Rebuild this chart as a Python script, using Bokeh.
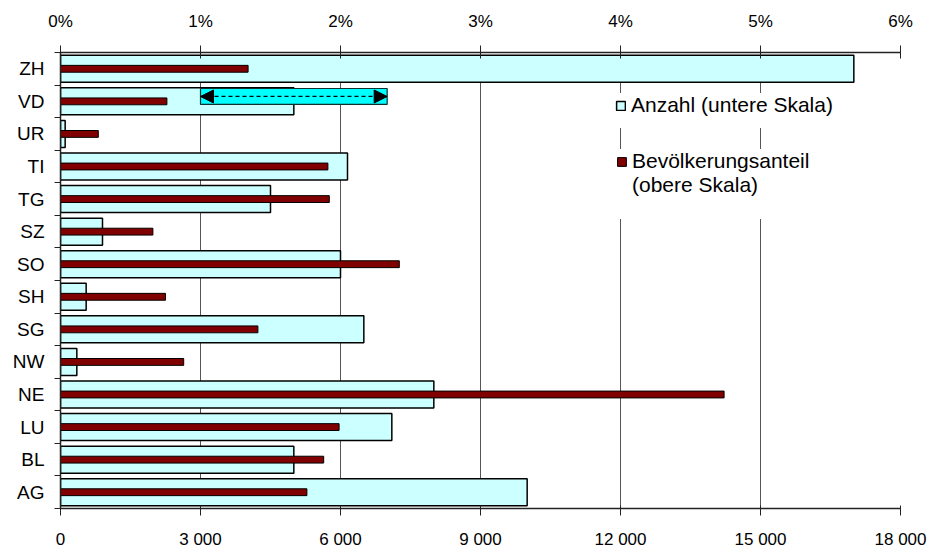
from bokeh.plotting import figure
from bokeh.models import (Range1d, LinearAxis, FixedTicker, Legend, LegendItem,
                          Arrow, NormalHead)
from bokeh.embed import file_html
from bokeh.resources import INLINE

# ---- data ----
cantons = ["ZH", "VD", "UR", "TI", "TG", "SZ", "SO", "SH", "SG", "NW", "NE", "LU", "BL", "AG"]
anzahl = [17000, 5000, 100, 6150, 4500, 900, 6000, 550, 6500, 350, 8000, 7100, 5000, 10000]
anteil = [1.34, 0.76, 0.27, 1.91, 1.92, 0.66, 2.42, 0.75, 1.41, 0.88, 4.74, 1.99, 1.88, 1.76]

bottom_ticks = [0, 3000, 6000, 9000, 12000, 15000, 18000]
bottom_labels = ["0", "3 000", "6 000", "9 000", "12 000", "15 000", "18 000"]
top_ticks = [0, 1, 2, 3, 4, 5, 6]
top_labels = ["0%", "1%", "2%", "3%", "4%", "5%", "6%"]

legend_anzahl = "Anzahl (untere Skala)"
legend_anteil_1 = "Bevölkerungsanteil"
legend_anteil_2 = "(obere Skala)"

arrow_row = "VD"
arrow_from = 3000
arrow_to = 7000

FONT = "Liberation Sans"

n = len(cantons)
ys = [n - 1 - i for i in range(n)]

p = figure(width=936, height=554, output_backend="svg", toolbar_location=None,
           x_range=Range1d(bottom_ticks[0], bottom_ticks[-1]),
           y_range=Range1d(-0.5, n - 0.5))
p.min_border_left = 60
p.min_border_right = 36
p.min_border_top = 52
p.min_border_bottom = 46
p.outline_line_color = None
p.background_fill_color = "white"
p.border_fill_color = "white"

p.extra_x_ranges = {"pct": Range1d(top_ticks[0], top_ticks[-1])}

# bottom axis
xa = p.xaxis[0]
xa.ticker = FixedTicker(ticks=bottom_ticks)
xa.major_label_overrides = {t: l for t, l in zip(bottom_ticks, bottom_labels)}
xa.major_label_text_font = FONT
xa.major_label_text_font_size = "17px"
xa.major_label_text_color = "black"
xa.axis_line_color = "#222222"
xa.axis_line_width = 1.5
xa.major_tick_line_color = "#222222"
xa.major_tick_in = 3
xa.major_tick_out = 7
xa.minor_tick_line_color = None
xa.major_label_standoff = 14

# top axis
ta = LinearAxis(x_range_name="pct", ticker=FixedTicker(ticks=top_ticks))
ta.major_label_overrides = {t: l for t, l in zip(top_ticks, top_labels)}
ta.major_label_text_font = FONT
ta.major_label_text_font_size = "17px"
ta.major_label_text_color = "black"
ta.axis_line_color = "#222222"
ta.axis_line_width = 1.5
ta.major_tick_line_color = "#222222"
ta.major_tick_in = 6
ta.major_tick_out = 7
ta.minor_tick_line_color = None
ta.major_label_standoff = 15
p.add_layout(ta, "above")

# left axis (categories)
ya = p.yaxis[0]
ya.ticker = FixedTicker(ticks=ys, minor_ticks=[k - 0.5 for k in range(n + 1)])
ya.major_label_overrides = {y: c for y, c in zip(ys, cantons)}
ya.major_label_text_font = FONT
ya.major_label_text_font_size = "19px"
ya.major_label_text_color = "black"
ya.axis_line_color = "#222222"
ya.axis_line_width = 1.5
ya.major_tick_in = 0
ya.major_tick_out = 0
ya.minor_tick_in = 0
ya.minor_tick_out = 6
ya.minor_tick_line_color = "#222222"
ya.major_label_standoff = 10

# grid
p.xgrid.ticker = FixedTicker(ticks=bottom_ticks[1:])
p.xgrid.grid_line_color = "#555555"
p.xgrid.grid_line_width = 1
p.ygrid.visible = False

# bars
r1 = p.hbar(y=ys, left=0, right=anzahl, height=0.83, fill_color="#CCFFFF",
            line_color="black", line_width=1.5)
r2 = p.hbar(y=ys, left=0, right=anteil, height=0.21, fill_color="#800000",
            line_color="black", line_width=1, x_range_name="pct")
# empty, invisible renderer used only for legend text lines without a swatch
r_blank = p.hbar(y=[], left=[], right=[], height=0.2, fill_alpha=0, line_alpha=0)

# arrow annotation on VD
ay = ys[cantons.index(arrow_row)] + 0.15
p.hbar(y=[ay], left=[arrow_from], right=[arrow_to], height=0.49,
       fill_color="#00FFFF", line_color="#103030", line_width=1.2)
p.add_layout(Arrow(x_start=arrow_from, x_end=arrow_to, y_start=ay, y_end=ay,
                   line_dash="4 3", line_width=1.2, line_color="black",
                   start=NormalHead(size=13, fill_color="black", line_color="black"),
                   end=NormalHead(size=13, fill_color="black", line_color="black")))


def style(lg, pad, spacing=0):
    lg.label_text_font = FONT
    lg.label_text_font_size = "21px"
    lg.label_text_color = "black"
    lg.glyph_width = 11
    lg.glyph_height = 11
    lg.label_standoff = 5
    lg.padding = pad
    lg.spacing = spacing
    lg.margin = 0
    lg.border_line_color = None
    lg.background_fill_color = "white"
    lg.background_fill_alpha = 1


leg1 = Legend(items=[LegendItem(label=legend_anzahl, renderers=[r1]),
                     LegendItem(label=" ", renderers=[r_blank])],
              location=(555, 380))
style(leg1, 8, -2)
leg2 = Legend(items=[LegendItem(label=legend_anteil_1, renderers=[r2]),
                     LegendItem(label=legend_anteil_2, renderers=[r_blank]),
                     LegendItem(label=" ", renderers=[r_blank]),
                     LegendItem(label=" ", renderers=[r_blank])],
              location=(556, 289))
style(leg2, 8, -2)
p.add_layout(leg2)
p.add_layout(leg1)

open("out.html", "w").write(file_html(p, INLINE))
